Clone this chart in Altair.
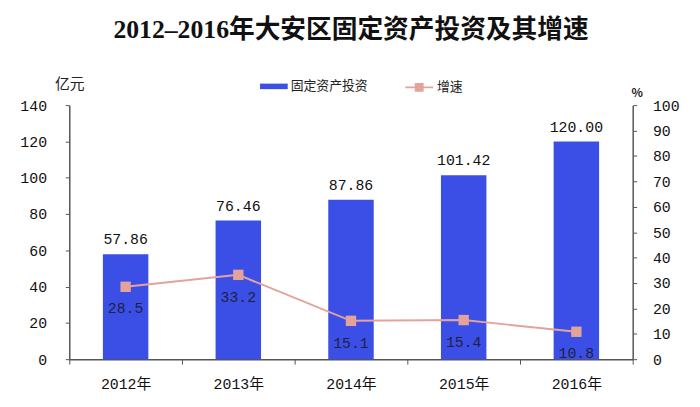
import altair as alt
import pandas as pd

years = ["2012年", "2013年", "2014年", "2015年", "2016年"]
invest = [57.86, 76.46, 87.86, 101.42, 120.00]
growth = [28.5, 33.2, 15.1, 15.4, 10.8]
invest_labels = ["57.86", "76.46", "87.86", "101.42", "120.00"]
growth_labels = ["28.5", "33.2", "15.1", "15.4", "10.8"]
left_ticks = [0, 20, 40, 60, 80, 100, 120, 140]
right_ticks = [0, 10, 20, 30, 40, 50, 60, 70, 80, 90, 100]

df = pd.DataFrame({
    "year": years,
    "invest": invest,
    "growth": growth,
    "invest_label": invest_labels,
    "growth_label": growth_labels,
    "s1": ["固定资产投资"] * 5,
    "s2": ["增速"] * 5,
})

BAR = "#3B4FE6"
LINE = "#E3A39B"
MONO = "Liberation Mono, Noto Sans CJK SC"
CJK = "Noto Sans CJK SC"

x = alt.X("year:N", sort=years, title=None,
          scale=alt.Scale(paddingInner=0, paddingOuter=0),
          axis=alt.Axis(labelAngle=0, tickBand="extent", labelFont=MONO, labelFontSize=15,
                        labelColor="#111", labelPadding=13, tickSize=5, domainColor="#555",
                        tickColor="#555"))

left_axis = alt.Axis(values=left_ticks, grid=False, title="亿元", tickCount=8,
                     titleAngle=0, titleX=-15, titleY=-14, titleFont=CJK, titleFontSize=15,
                     titleFontWeight="normal", titleColor="#222", titleAlign="left",
                     labelFont=MONO, labelFontSize=15, labelColor="#111", labelPadding=19,
                     labelOverlap=False, labelBound=False, labelFlush=False,
                     tickSize=4, domainColor="#555", tickColor="#555")
right_axis = alt.Axis(orient="right", values=right_ticks, grid=False, title="%", tickCount=11,
                      titleAngle=0, titleX=4, titleY=-6, titleFont=CJK, titleFontSize=12,
                      titleFontWeight="bold", titleColor="#222",
                      labelFont=MONO, labelFontSize=15, labelColor="#111", labelPadding=16,
                      labelOverlap=False, labelBound=False, labelFlush=False,
                      tickSize=4, domainColor="#555", tickColor="#555")
ly = alt.Y("invest:Q", scale=alt.Scale(domain=[0, 140]), axis=left_axis)
ry = alt.Y("growth:Q", scale=alt.Scale(domain=[0, 100]), axis=right_axis)

base = alt.Chart(df)

bars = base.mark_bar(width=46).encode(
    x=x,
    y=ly,
    fill=alt.Fill("s1:N", scale=alt.Scale(domain=["固定资产投资"], range=[BAR]),
                  legend=alt.Legend(title=None, orient="none", legendX=193, legendY=-33,
                                    symbolType="M-1,-0.2H1V0.2H-1Z", symbolSize=784,
                                    symbolStrokeWidth=0, labelFont=CJK, labelFontSize=13,
                                    labelColor="#222", labelOffset=3)),
)

bar_text = base.mark_text(baseline="bottom", dy=-7, font=MONO, fontSize=15, color="#111").encode(
    x=x,
    y=ly,
    text="invest_label:N",
)

left = alt.layer(bars, bar_text)

line = base.mark_line(strokeWidth=2).encode(
    x=x,
    y=ry,
    stroke=alt.Stroke("s2:N", scale=alt.Scale(domain=["增速"], range=[LINE]),
                      legend=alt.Legend(title=None, orient="none", legendX=339, legendY=-33,
                                        symbolType="M-1,0H1M-0.25,-0.25H0.25V0.25H-0.25Z",
                                        symbolSize=784, symbolStrokeWidth=2, symbolFillColor=LINE,
                                        labelFont=CJK, labelFontSize=13, labelColor="#222",
                                        labelOffset=3)),
)

pts = base.mark_square(size=110, color=LINE, opacity=1).encode(x=x, y=ry)

line_text = base.mark_text(baseline="middle", dy=22, font=MONO, fontSize=15, color="#1E2240").encode(
    x=x,
    y=ry,
    text="growth_label:N",
)

right = alt.layer(line, pts, line_text)

chart = alt.layer(left, right).resolve_scale(y="independent").properties(
    width=570,
    height=257,
    padding={"left": 62, "top": 96, "right": 60, "bottom": 40},
    autosize=alt.AutoSizeParams(type="none"),
    title=alt.TitleParams("2012–2016年大安区固定资产投资及其增速", font="Liberation Serif, Noto Sans CJK SC",
                          fontSize=26, fontWeight="bold", color="#111", anchor="middle", offset=30),
).configure_view(stroke=None).configure_axis(domainWidth=1.5)

chart.save("out.html", embed_options={"renderer": "svg", "actions": False})
